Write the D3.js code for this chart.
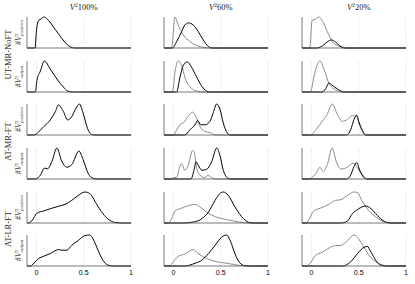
<!DOCTYPE html>
<html>
<head>
<meta charset="utf-8">
<script src="https://cdn.jsdelivr.net/npm/d3@7"></script>
<style>
  body { margin: 0; background: #fff; }
  svg { display: block; }
</style>
</head>
<body>
<div id="chart"></div>
<script>
// ##################################
// Grid of V^2 distributions (3 cols x 6 rows)
// ##################################

const W = 415, H = 284;

// column titles (V^2 kept) and row labels
const colTitles = ["100%", "60%", "20%"];
const groupLabels = ["UT-MR-NoFT", "AT-MR-FT", "AT-LR-FT"];
const rowSubs = ["position", "output"];   // subscript of #V^2 on each row pair
const xTicks = [0, 0.5, 1];

// curves: [x, density] points, one array per panel
// col 1 (100%) only the black curve
const c1r1 = [[-0.1,0],[-0.015,0],[0.0,0.55],[0.025,0.88],[0.05,0.92],[0.08,0.98],[0.11,0.93],[0.15,0.79],[0.2,0.58],[0.25,0.38],[0.29,0.22],[0.35,0.05],[0.41,0],[1,0]];
const c1r2 = [[-0.1,0],[-0.012,0],[0.005,0.37],[0.042,0.68],[0.084,1.0],[0.146,0.74],[0.216,0.42],[0.285,0.16],[0.33,0.03],[0.39,0],[1,0]];
const c1r3 = [[-0.1,0],[-0.03,0],[0.077,0.28],[0.146,0.5],[0.2,0.78],[0.233,1.0],[0.285,0.78],[0.33,0.5],[0.373,0.61],[0.418,0.89],[0.453,1.03],[0.494,0.72],[0.54,0.22],[0.58,0.02],[0.62,0],[1,0]];
const c1r4 = [[-0.1,0],[-0.01,0],[0.042,0.13],[0.084,0.35],[0.118,0.33],[0.164,0.57],[0.216,1.0],[0.268,0.57],[0.32,0.38],[0.373,0.46],[0.449,0.9],[0.494,0.62],[0.547,0.18],[0.6,0.02],[0.64,0],[1,0]];
const c1r5 = [[-0.1,0],[-0.08,0],[-0.045,0.09],[0.007,0.32],[0.077,0.39],[0.146,0.46],[0.233,0.54],[0.303,0.6],[0.373,0.73],[0.442,0.89],[0.512,1.0],[0.564,0.95],[0.634,0.62],[0.703,0.3],[0.773,0.09],[0.843,0.01],[0.9,0],[1,0]];
const c1r6 = [[-0.1,0],[-0.06,0],[-0.028,0.09],[0.024,0.25],[0.077,0.32],[0.146,0.41],[0.233,0.54],[0.268,0.52],[0.32,0.52],[0.373,0.68],[0.442,0.84],[0.512,1.0],[0.564,1.02],[0.599,0.89],[0.651,0.52],[0.703,0.19],[0.756,0.03],[0.81,0],[1,0]];

// col 2 (60%) gray and black
const c2r1g = [[-0.1,0],[-0.02,0],[0.016,1.0],[0.05,0.74],[0.104,0.42],[0.175,0.21],[0.246,0.08],[0.32,0.02],[0.39,0],[1,0]];
const c2r1k = [[-0.1,0],[-0.01,0],[0.034,0.21],[0.087,0.53],[0.12,0.74],[0.157,0.81],[0.21,0.74],[0.262,0.53],[0.315,0.26],[0.37,0.05],[0.41,0],[1,0]];
const c2r2g = [[-0.1,0],[-0.01,0],[0.016,0.63],[0.05,0.98],[0.087,0.84],[0.12,0.47],[0.175,0.16],[0.246,0.03],[0.32,0],[1,0]];
const c2r2k = [[-0.1,0],[0.034,0],[0.069,0.47],[0.104,0.84],[0.146,0.95],[0.19,0.79],[0.246,0.47],[0.3,0.18],[0.35,0.03],[0.39,0],[1,0]];
const c2r3g = [[-0.1,0],[0.0,0],[0.034,0.17],[0.069,0.33],[0.11,0.41],[0.157,0.61],[0.203,0.74],[0.235,0.61],[0.28,0.28],[0.333,0.11],[0.386,0.08],[0.44,0],[1,0]];
const c2r3k = [[-0.1,0],[0.12,0],[0.175,0.17],[0.228,0.33],[0.256,0.47],[0.288,0.33],[0.333,0.33],[0.386,0.44],[0.421,0.72],[0.457,1.0],[0.492,0.83],[0.527,0.39],[0.57,0.06],[0.6,0],[1,0]];
const c2r4g = [[-0.1,0],[-0.02,0],[0.005,0.05],[0.035,0.05],[0.06,0.35],[0.087,0.51],[0.12,0.29],[0.157,0.46],[0.203,0.95],[0.22,0.89],[0.246,0.35],[0.28,0.13],[0.333,0.05],[0.368,0.13],[0.4,0.05],[0.44,0],[1,0]];
const c2r4k = [[-0.1,0],[0.185,0],[0.217,0.29],[0.238,0.57],[0.262,0.46],[0.3,0.29],[0.35,0.32],[0.404,0.57],[0.457,1.03],[0.492,0.78],[0.527,0.29],[0.57,0.04],[0.6,0],[1,0]];
const c2r5g = [[-0.1,0],[-0.055,0],[-0.02,0.14],[0.016,0.39],[0.069,0.46],[0.14,0.54],[0.228,0.6],[0.28,0.52],[0.35,0.35],[0.457,0.19],[0.563,0.11],[0.7,0.03],[0.8,0],[1,0]];
const c2r5k = [[-0.1,0],[0.1,0],[0.21,0.03],[0.3,0.14],[0.37,0.35],[0.44,0.73],[0.49,0.95],[0.527,1.0],[0.58,0.89],[0.65,0.52],[0.74,0.14],[0.81,0.01],[0.85,0],[1,0]];
const c2r6g = [[-0.1,0],[-0.045,0],[0.0,0.14],[0.05,0.32],[0.12,0.39],[0.21,0.54],[0.26,0.41],[0.35,0.25],[0.457,0.14],[0.563,0.09],[0.7,0.02],[0.8,0],[1,0]];
const c2r6k = [[-0.1,0],[0.12,0],[0.228,0.09],[0.3,0.19],[0.37,0.41],[0.44,0.68],[0.51,0.95],[0.563,1.02],[0.6,0.84],[0.65,0.41],[0.7,0.11],[0.756,0.01],[0.8,0],[1,0]];

// col 3 (20%) gray and black
const c3r1g = [[-0.1,0],[-0.018,0],[0.007,0.89],[0.043,0.93],[0.078,1.0],[0.114,0.89],[0.167,0.53],[0.22,0.21],[0.273,0.08],[0.34,0.02],[0.39,0],[1,0]];
const c3r1k = [[-0.1,0],[0.06,0],[0.13,0.1],[0.173,0.21],[0.213,0.26],[0.255,0.19],[0.3,0.07],[0.35,0],[1,0]];
const c3r2g = [[-0.1,0],[-0.01,0],[0.025,0.47],[0.053,0.79],[0.089,0.98],[0.13,0.74],[0.184,0.28],[0.255,0.07],[0.34,0],[1,0]];
const c3r2k = [[-0.1,0],[0.114,0],[0.15,0.1],[0.184,0.28],[0.22,0.21],[0.273,0.1],[0.32,0.02],[0.36,0],[1,0]];
const c3r3g = [[-0.1,0],[-0.01,0],[0.06,0.22],[0.114,0.44],[0.167,0.67],[0.22,1.0],[0.273,0.67],[0.326,0.44],[0.38,0.5],[0.433,0.63],[0.479,0.59],[0.5,0.39],[0.54,0.11],[0.575,0],[1,0]];
const c3r3k = [[-0.1,0],[0.372,0],[0.415,0.17],[0.45,0.5],[0.479,0.64],[0.5,0.44],[0.54,0.14],[0.575,0],[1,0]];
const c3r4g = [[-0.1,0],[-0.03,0],[0.005,0.05],[0.06,0.24],[0.09,0.38],[0.125,0.24],[0.167,0.46],[0.22,1.0],[0.262,0.57],[0.31,0.32],[0.38,0.38],[0.443,0.51],[0.479,0.4],[0.52,0.18],[0.56,0.02],[0.59,0],[1,0]];
const c3r4k = [[-0.1,0],[0.372,0],[0.415,0.13],[0.45,0.4],[0.479,0.53],[0.51,0.29],[0.56,0.05],[0.59,0],[1,0]];
const c3r5g = [[-0.1,0],[-0.064,0],[-0.03,0.09],[0.025,0.39],[0.096,0.48],[0.184,0.6],[0.255,0.73],[0.31,0.75],[0.38,0.89],[0.45,1.0],[0.486,0.98],[0.54,0.68],[0.59,0.46],[0.66,0.25],[0.75,0.06],[0.84,0],[1,0]];
const c3r5k = [[-0.1,0],[0.31,0],[0.38,0.06],[0.433,0.3],[0.5,0.46],[0.575,0.55],[0.63,0.46],[0.68,0.3],[0.75,0.09],[0.84,0],[1,0]];
const c3r6g = [[-0.1,0],[-0.053,0],[-0.01,0.11],[0.043,0.35],[0.114,0.46],[0.2,0.62],[0.255,0.68],[0.31,0.68],[0.38,0.84],[0.45,1.03],[0.5,0.89],[0.556,0.62],[0.61,0.35],[0.66,0.19],[0.73,0.06],[0.82,0],[1,0]];
const c3r6k = [[-0.1,0],[0.326,0],[0.415,0.14],[0.486,0.41],[0.556,0.62],[0.59,0.65],[0.63,0.46],[0.68,0.19],[0.73,0.03],[0.78,0],[1,0]];

// panels[col][row] = list of series {pts, color}
const GRAY = "#8c8c8c", BLACK = "#000";
const panels = [
  [c1r1, c1r2, c1r3, c1r4, c1r5, c1r6].map(k => [{pts: k, color: BLACK}]),
  [[c2r1g,c2r1k],[c2r2g,c2r2k],[c2r3g,c2r3k],[c2r4g,c2r4k],[c2r5g,c2r5k],[c2r6g,c2r6k]]
    .map(([g, k]) => [{pts: g, color: GRAY}, {pts: k, color: BLACK}]),
  [[c3r1g,c3r1k],[c3r2g,c3r2k],[c3r3g,c3r3k],[c3r4g,c3r4k],[c3r5g,c3r5k],[c3r6g,c3r6k]]
    .map(([g, k]) => [{pts: g, color: GRAY}, {pts: k, color: BLACK}])
];

// layout
const colLeft = [27, 164, 302];
const panelW = 104;
const rowBottom = [48, 92, 135, 179, 223, 266];
const panelH = 31;

const svg = d3.select("#chart").append("svg")
  .attr("width", W).attr("height", H);

const serif = "'Liberation Serif', 'DejaVu Serif', serif";
const sans = "'Liberation Sans', Arial, sans-serif";

panels.forEach((col, ci) => {
  const x = d3.scaleLinear().domain([-0.1, 1]).range([colLeft[ci], colLeft[ci] + panelW]);

  // column title
  const t = svg.append("text")
    .attr("x", x(0.5)).attr("y", 10)
    .attr("text-anchor", "middle")
    .attr("fill", "#222")
    .attr("font-family", serif).attr("font-size", 8.5);
  t.append("tspan").attr("font-style", "italic").text("V");
  t.append("tspan").attr("dy", -3).attr("font-size", 5.5).text("2");
  t.append("tspan").attr("dy", 3).text(colTitles[ci]);

  col.forEach((series, ri) => {
    const yMax = d3.max(series, s => d3.max(s.pts, p => p[1]));
    const y = d3.scaleLinear().domain([0, yMax]).range([rowBottom[ri], rowBottom[ri] - panelH]);
    const g = svg.append("g");

    // dotted grid lines
    g.selectAll("line.grid")
      .data(xTicks)
      .join("line")
        .attr("class", "grid")
        .attr("x1", d => x(d)).attr("x2", d => x(d))
        .attr("y1", y(0)).attr("y2", y(yMax))
        .attr("stroke", "#c8c8c8")
        .attr("stroke-width", 0.6)
        .attr("stroke-dasharray", "1,1.5");

    const line = d3.line()
      .x(d => x(d[0]))
      .y(d => y(d[1]))
      .curve(d3.curveMonotoneX);

    g.selectAll("path.curve")
      .data(series)
      .join("path")
        .attr("class", "curve")
        .attr("d", d => line(d.pts))
        .attr("fill", "none")
        .attr("stroke", d => d.color)
        .attr("stroke-width", 1)
        .attr("stroke-linejoin", "round");

    // axes (left + bottom, no ticks)
    g.append("path")
      .attr("d", `M${x(-0.1)},${y(yMax)}V${y(0)}H${x(1)}`)
      .attr("fill", "none")
      .attr("stroke", "#555")
      .attr("stroke-width", 0.8);

    // y label on the first column
    if (ci === 0) {
      const cy = (y(0) + y(yMax)) / 2;
      const lab = svg.append("text")
        .attr("transform", `translate(21,${cy}) rotate(-90)`)
        .attr("text-anchor", "middle")
        .attr("fill", "#333")
        .attr("font-family", serif).attr("font-size", 8);
      lab.append("tspan").text("#");
      lab.append("tspan").attr("font-style", "italic").text("V");
      lab.append("tspan").attr("dy", -3.2).attr("font-size", 5).text("2");
      lab.append("tspan").attr("dx", -2.5).attr("dy", 5.5).attr("font-size", 5)
        .attr("font-style", "italic").text(rowSubs[ri % 2]);
    }

    // tick labels on the bottom row
    if (ri === 5) {
      svg.selectAll(null)
        .data(xTicks)
        .join("text")
          .attr("x", d => x(d)).attr("y", y(0) + 9)
          .attr("text-anchor", "middle")
          .attr("font-family", sans).attr("font-size", 7)
          .text(d => d3.format("")(d));
    }
  });
});

// group labels for each pair of rows
groupLabels.forEach((lab, i) => {
  const cy = (rowBottom[2 * i] - panelH + rowBottom[2 * i + 1]) / 2;
  svg.append("text")
    .attr("transform", `translate(11,${cy}) rotate(-90)`)
    .attr("text-anchor", "middle")
    .attr("fill", "#222")
    .attr("font-family", serif).attr("font-size", 8.5)
    .text(lab);
});
</script>
</body>
</html>
